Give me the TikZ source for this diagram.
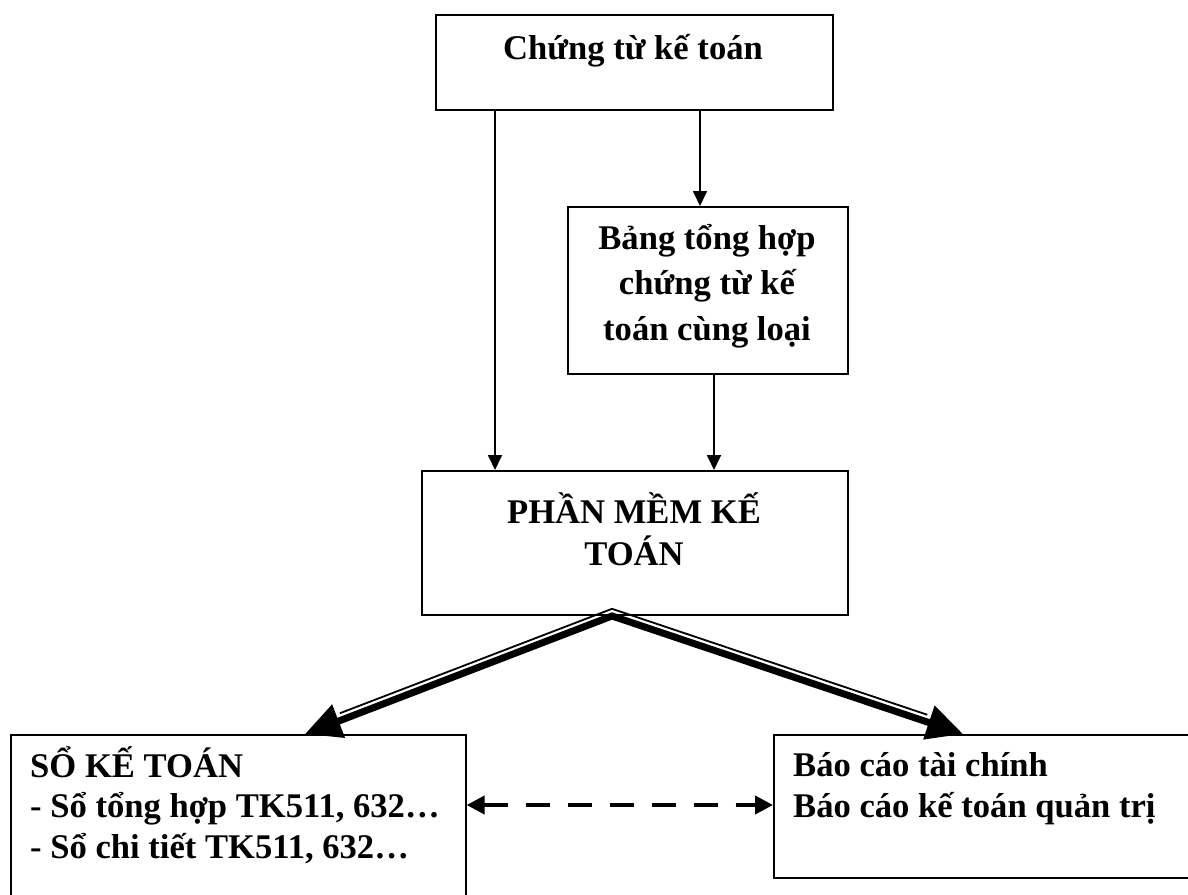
\documentclass[tikz,border=0pt]{standalone}
\usepackage{fontspec}
\setmainfont{Liberation Serif}
\usetikzlibrary{arrows.meta,calc}

\begin{document}
\begin{tikzpicture}[x=1pt,y=-1pt,
  box/.style={draw, line width=1.6pt, inner sep=0pt, anchor=north west},
  lbl/.style={inner sep=0pt, font=\bfseries\fontsize{34.6}{#1}\selectfont},
  lbl/.default=40,
  arr/.style={line width=1.8pt, -{Triangle[length=15pt,width=14pt]}},
  bigarr/.style={line width=7pt, line join=miter,
    {Triangle[length=36pt,width=34pt]}-{Triangle[length=36pt,width=34pt]}},
  thinrail/.style={line width=1.8pt, line join=miter},
  dasharr/.style={line width=4pt, dash pattern=on 24pt off 18pt,
    {Triangle[length=18pt,width=18pt]}-{Triangle[length=18pt,width=18pt]}}
]
% page
\fill[white] (0,0) rectangle (1188,894);
\clip (0,0) rectangle (1188,894);

% boxes
\node[box, minimum width=397pt, minimum height=95pt]  (ct) at (435,14)  {};
\node[box, minimum width=280pt, minimum height=167pt] (bth) at (567,206) {};
\node[box, minimum width=426pt, minimum height=144pt] (pm) at (421,470) {};
\node[box, minimum width=455pt, minimum height=200pt] (sk) at (10,734)  {};
\node[box, minimum width=450pt, minimum height=143pt] (bc) at (773,734) {};

% box texts
\node[lbl, anchor=base] (ctT) at (633,59) {Chứng từ kế toán};
\node[lbl=45.5, anchor=base, align=center] (bthT) at (707,340)
  {Bảng tổng hợp\\chứng từ kế\\toán cùng loại};
\node[lbl=42, anchor=base, align=center] (pmT) at (634,565)
  {PHẦN MỀM KẾ\\TOÁN};
\node[lbl=40.5, anchor=base west, align=left] (skT) at (30,858)
  {SỔ KẾ TOÁN\\- Sổ tổng hợp TK511, 632…\\- Sổ chi tiết TK511, 632…};
\node[lbl=40.5, anchor=base west, align=left] (bcT) at (793,817)
  {Báo cáo tài chính\\Báo cáo kế toán quản trị};

% connector positions
\coordinate (xa) at (495,0);
\coordinate (xb) at (700,0);
\coordinate (xc) at (714,0);
\coordinate (dy) at (0,805);
\coordinate (apex) at (612,616);
\coordinate (lt) at (305,734);
\coordinate (rt) at (963,734);

% thin arrows
\draw[arr] (ct.south -| xa) -- (pm.north -| xa);
\draw[arr] (ct.south -| xb) -- (bth.north -| xb);
\draw[arr] (bth.south -| xc) -- (pm.north -| xc);

% thick-thin double arrows
\draw[bigarr] (lt) -- (apex) -- (rt);
\draw[thinrail] ($(lt)!40pt!(apex)+(-2.5,-6.4)$) -- ($(apex)+(0,-7.2)$)
  -- ($(rt)!40pt!(apex)+(2.2,-6.5)$);

% dashed link
\draw[dasharr] (sk.east |- dy) -- (bc.west |- dy);
\end{tikzpicture}
\end{document}
